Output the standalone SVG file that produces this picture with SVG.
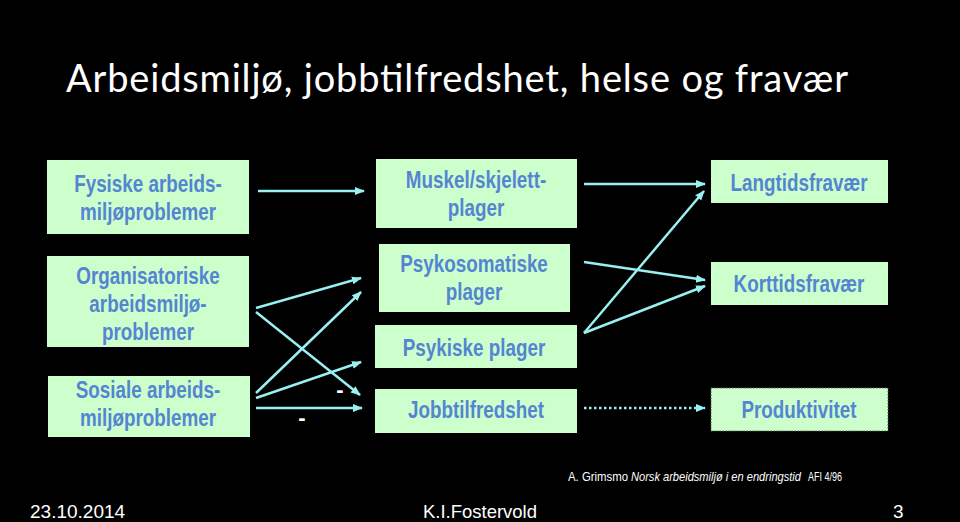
<svg xmlns="http://www.w3.org/2000/svg" width="960" height="522" viewBox="0 0 960 522">
<defs>
<style>
.box{fill:#CCFFCC;}
.lbl{font-family:"Liberation Sans",Arial,sans-serif;font-size:23px;font-weight:bold;fill:#5585D2;text-anchor:middle;}
.con{stroke:#99F0F0;stroke-width:2.5;fill:none;marker-end:url(#ah);}
.foot{font-family:"Liberation Sans",Arial,sans-serif;fill:#FFFFFF;}
.cite{font-family:"Liberation Sans",Arial,sans-serif;fill:#FFFFFF;font-size:13px;}
.minus{font-family:"Liberation Sans",Arial,sans-serif;font-size:22px;font-weight:bold;fill:#FFFFFF;text-anchor:middle;}
</style>
<marker id="ah" viewBox="0 0 10 10" refX="9" refY="5" markerWidth="4" markerHeight="4" orient="auto" markerUnits="strokeWidth">
<path d="M0,1 L10,5 L0,9 z" fill="#99F0F0"/>
</marker>
</defs>
<rect width="960" height="522" fill="#000"/>
<text x="66" y="92" font-family="Lato,'Open Sans',sans-serif" font-size="38" fill="#FFFFFF" textLength="782">Arbeidsmiljø, jobbtilfredshet, helse og fravær</text>

<g id="fysiske"><rect class="box" x="47" y="160" width="202" height="74"/><text class="lbl" transform="translate(148 0) scale(0.82 1)"><tspan x="0" y="192">Fysiske arbeids-</tspan><tspan x="0" y="220">miljøproblemer</tspan></text></g>
<g id="organisatoriske"><rect class="box" x="47" y="256" width="202" height="91"/><text class="lbl" transform="translate(148 0) scale(0.82 1)"><tspan x="0" y="284">Organisatoriske</tspan><tspan x="0" y="312">arbeidsmiljø-</tspan><tspan x="0" y="340">problemer</tspan></text></g>
<g id="sosiale"><rect class="box" x="48" y="376" width="202" height="61"/><text class="lbl" transform="translate(148 0) scale(0.82 1)"><tspan x="0" y="398">Sosiale arbeids-</tspan><tspan x="0" y="426">miljøproblemer</tspan></text></g>

<g id="muskel"><rect class="box" x="376" y="159" width="201" height="69"/><text class="lbl" transform="translate(476 0) scale(0.82 1)"><tspan x="0" y="188">Muskel/skjelett-</tspan><tspan x="0" y="216">plager</tspan></text></g>
<g id="psykosomatiske"><rect class="box" x="379" y="244" width="191" height="68"/><text class="lbl" transform="translate(474 0) scale(0.82 1)"><tspan x="0" y="272">Psykosomatiske</tspan><tspan x="0" y="300">plager</tspan></text></g>
<g id="psykiske"><rect class="box" x="375" y="325" width="202" height="43"/><text class="lbl" transform="translate(474 0) scale(0.82 1)" x="0" y="356">Psykiske plager</text></g>
<g id="jobbtilfredshet"><rect class="box" x="375" y="389" width="202" height="44"/><text class="lbl" transform="translate(476 0) scale(0.82 1)" x="0" y="418">Jobbtilfredshet</text></g>

<g id="langtids"><rect class="box" x="711" y="160" width="177" height="43"/><text class="lbl" transform="translate(799 0) scale(0.82 1)" x="0" y="191">Langtidsfravær</text></g>
<g id="korttids"><rect class="box" x="711" y="262" width="177" height="43"/><text class="lbl" transform="translate(799 0) scale(0.82 1)" x="0" y="292">Korttidsfravær</text></g>
<g id="produktivitet"><rect class="box" x="711" y="388" width="177" height="43" stroke="#556655" stroke-width="1" stroke-dasharray="1.5,1.5"/><text class="lbl" transform="translate(799 0) scale(0.82 1)" x="0" y="418">Produktivitet</text></g>

<g id="connectors">
<line class="con" x1="258" y1="191" x2="364" y2="191"/>
<line class="con" x1="256" y1="308" x2="361" y2="278"/>
<line class="con" x1="256" y1="312" x2="360" y2="395"/>
<line class="con" x1="256" y1="393" x2="361" y2="292"/>
<line class="con" x1="256" y1="398" x2="361" y2="362"/>
<line class="con" x1="256" y1="408" x2="362" y2="408"/>
<line class="con" x1="584" y1="184" x2="705" y2="184"/>
<line class="con" x1="584" y1="262" x2="705" y2="280"/>
<line class="con" x1="584" y1="333" x2="704" y2="191"/>
<line class="con" x1="584" y1="333" x2="705" y2="286"/>
<line class="con" x1="584" y1="408" x2="705" y2="408" stroke-dasharray="2.5,2.5"/>
</g>
<text class="minus" x="340" y="397">-</text>
<text class="minus" x="302" y="425">-</text>

<text class="cite" x="568" y="481" textLength="60" lengthAdjust="spacingAndGlyphs">A. Grimsmo</text>
<text class="cite" x="631" y="481" font-style="italic" textLength="170" lengthAdjust="spacingAndGlyphs">Norsk arbeidsmiljø i en endringstid</text>
<text class="cite" x="808" y="481" textLength="34" lengthAdjust="spacingAndGlyphs">AFI 4/96</text>
<text class="foot" x="30" y="518" font-size="19">23.10.2014</text>
<text class="foot" x="423" y="518" font-size="19" textLength="114" lengthAdjust="spacingAndGlyphs">K.I.Fostervold</text>
<text class="foot" x="893" y="518" font-size="19">3</text>
</svg>
